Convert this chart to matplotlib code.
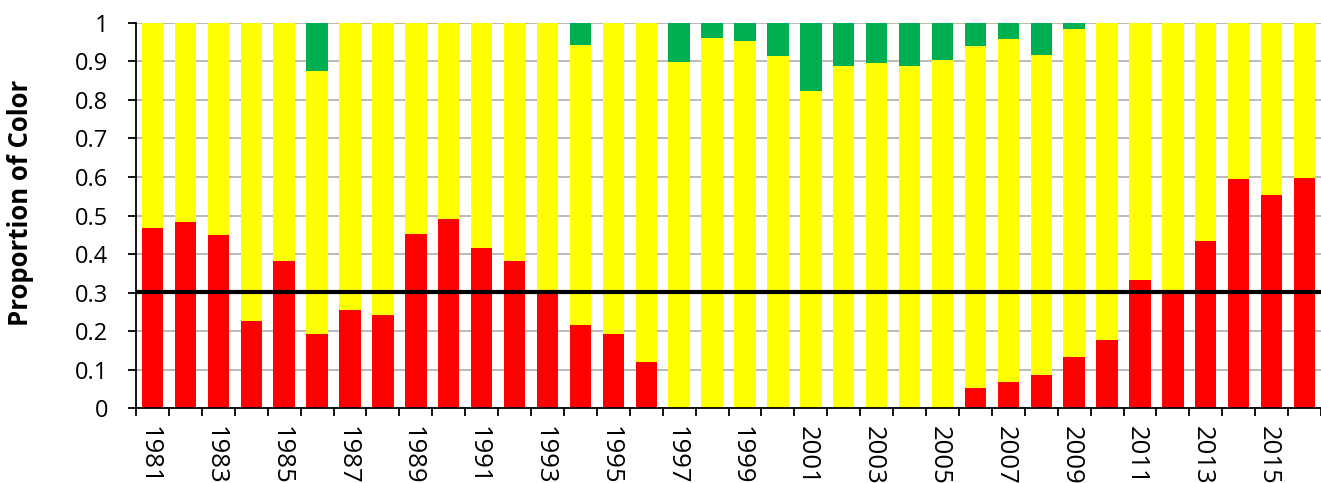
import numpy as np
import matplotlib
matplotlib.use("Agg")
import matplotlib.pyplot as plt

plt.rcParams['font.family'] = ['Open Sans', 'DejaVu Sans']

years = list(range(1981, 2017))

# proportions, bottom to top
red = [0.468, 0.484, 0.450, 0.227, 0.381, 0.194, 0.256, 0.242, 0.453, 0.492,
       0.416, 0.381, 0.305, 0.217, 0.194, 0.121, 0.0, 0.0, 0.0, 0.0,
       0.0, 0.0, 0.0, 0.0, 0.0, 0.054, 0.068, 0.086, 0.133, 0.177,
       0.334, 0.307, 0.435, 0.595, 0.554, 0.596]
yellow = [0.532, 0.516, 0.550, 0.773, 0.619, 0.681, 0.744, 0.758, 0.547, 0.508,
          0.584, 0.619, 0.695, 0.726, 0.806, 0.879, 0.899, 0.960, 0.952, 0.914,
          0.822, 0.889, 0.895, 0.889, 0.903, 0.885, 0.889, 0.831, 0.851, 0.823,
          0.666, 0.693, 0.565, 0.405, 0.446, 0.404]
green = [0.0, 0.0, 0.0, 0.0, 0.0, 0.125, 0.0, 0.0, 0.0, 0.0,
         0.0, 0.0, 0.0, 0.057, 0.0, 0.0, 0.101, 0.040, 0.048, 0.086,
         0.178, 0.111, 0.105, 0.111, 0.097, 0.061, 0.043, 0.083, 0.016, 0.0,
         0.0, 0.0, 0.0, 0.0, 0.0, 0.0]
threshold = 0.302

fig = plt.figure(figsize=(13.21, 4.83), dpi=100)
ax = fig.add_axes([0.103, 0.1546, 0.897, 0.7984])

x = np.arange(len(years))
red = np.array(red)
yellow = np.array(yellow)
green = np.array(green)

ax.bar(x, red, width=0.65, color='#FF0000', zorder=2)
ax.bar(x, yellow, width=0.65, bottom=red, color='#FFFF00', zorder=2)
ax.bar(x, green, width=0.65, bottom=red + yellow, color='#00B050', zorder=2)
ax.axhline(threshold, color='black', lw=3, zorder=3)

ax.set_ylim(0, 1)
ax.set_xlim(-0.5, len(years) - 0.5 - 7 / 33.12)
ax.set_yticks(np.arange(0, 1.01, 0.1))
ax.set_yticklabels(['0'] + [f'{v:.1f}' for v in np.arange(0.1, 0.95, 0.1)] + ['1'])
ax.yaxis.grid(True, color='#B4B4B4', lw=1.3, zorder=0)

# ticks between categories, labels on every other year
ax.set_xticks(np.arange(-0.5, len(years), 1))
ax.set_xticklabels([])
ax.set_xticks(x[::2] - 0.1, minor=True)
ax.set_xticklabels([str(y) for y in years[::2]], minor=True, rotation=270, fontsize=18.5)
ax.tick_params(axis='x', which='major', length=6, width=1.3, direction='out')
ax.tick_params(axis='x', which='minor', length=0, pad=13)
ax.tick_params(axis='y', length=6, width=1.3, labelsize=17, pad=14)

for s in ['top', 'right']:
    ax.spines[s].set_visible(False)
ax.spines['left'].set_linewidth(1.3)
ax.spines['bottom'].set_linewidth(1.3)

fig.text(21 / 1321, (483 - 203) / 483, 'Proportion of Color', rotation=90,
         ha='center', va='center', fontsize=18.5, fontweight='bold')

fig.savefig('out.png', dpi=100)
